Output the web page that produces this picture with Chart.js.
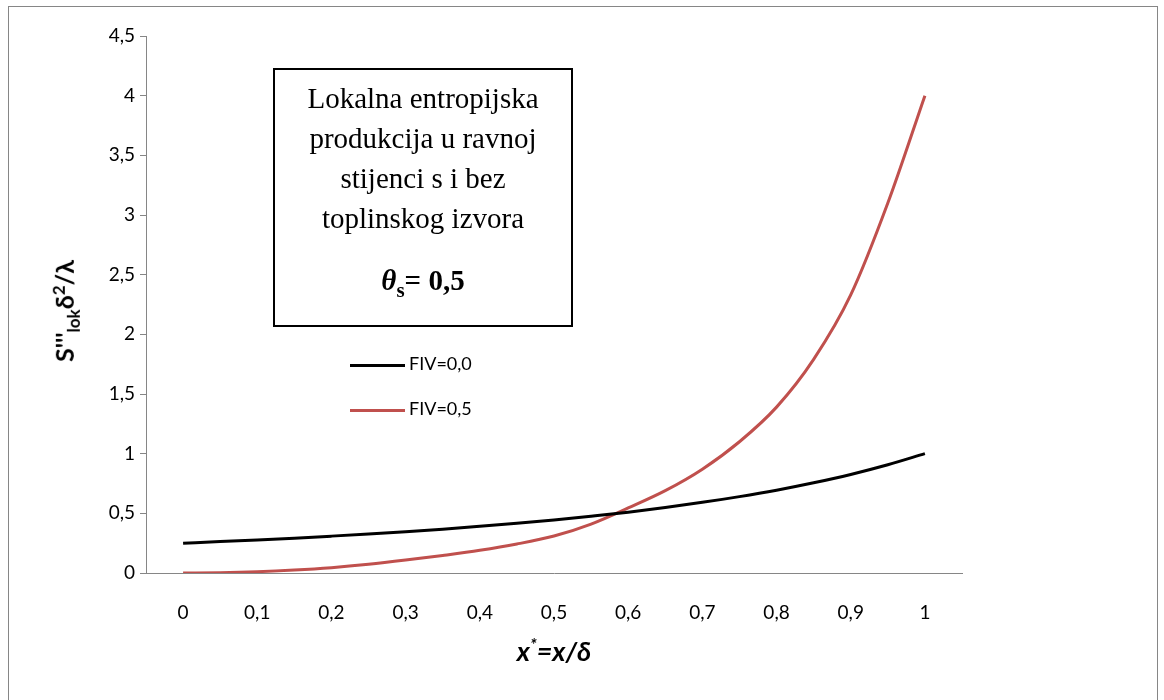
<!DOCTYPE html>
<html>
<head>
<meta charset="utf-8">
<script src="https://cdn.jsdelivr.net/npm/chart.js@4/dist/chart.umd.min.js"></script>
<style>
  body { margin: 0; background: #fff; }
  #wrap { position: relative; width: 1164px; height: 700px; overflow: hidden; }
  #frame { position: absolute; left: 8px; top: 6px; width: 1148px; height: 720px; border: 1px solid #868686; }
  #chart { position: absolute; left: 0; top: 0; }
  .note { position: absolute; left: 273px; top: 68px; width: 296px; height: 247px; padding-top: 8px; border: 2px solid #000;
    font-family: 'Liberation Serif', serif; font-size: 29px; text-align: center; line-height: 40px; }
  .note .theta { margin-top: 22px; font-weight: bold; font-size: 29px; }
  .note .theta sub { font-size: 21px; }
  .ytitle { position: absolute; left: 66px; top: 311px; transform: translate(-50%, -50%) rotate(-90deg);
    font-family: Lato, sans-serif; font-weight: bold; font-size: 25px; white-space: nowrap; }
  .ytitle sub, .ytitle sup { font-size: 17px; }
  .xtitle { position: absolute; left: 554px; top: 650px; transform: translate(-50%, -50%);
    font-family: Lato, sans-serif; font-weight: bold; font-style: italic; font-size: 27px; white-space: nowrap; }
  .xtitle sup { font-size: 17px; }
  .legend { position: absolute; left: 350px; font-family: Lato, sans-serif; font-size: 18px; }
  .legend span.ln { display: inline-block; width: 55px; height: 3px; vertical-align: middle; margin-right: 4px; }
</style>
</head>
<body>
<div id="wrap">
  <div id="frame"></div>
  <canvas id="chart" width="1164" height="700"></canvas>
  <div class="note">
    Lokalna entropijska<br>produkcija u ravnoj<br>stijenci s i bez<br>toplinskog izvora
    <div class="theta"><i>θ</i><sub>s</sub>= 0,5</div>
  </div>
  <div class="ytitle">S'''<sub>lok</sub>δ<sup>2</sup>/λ</div>
  <div class="xtitle">x<sup>*</sup>=x/δ</div>
  <div id="legend"></div>
</div>
<script>
  const xValues = [0, 0.05, 0.1, 0.15, 0.2, 0.25, 0.3, 0.35, 0.4, 0.45, 0.5, 0.55, 0.6, 0.65, 0.7, 0.75, 0.8, 0.85, 0.9, 0.95, 1];
  const fiv00 = [0.25, 0.263, 0.277, 0.292, 0.309, 0.327, 0.346, 0.367, 0.391, 0.416, 0.444, 0.476, 0.51, 0.549, 0.592, 0.64, 0.694, 0.756, 0.826, 0.907, 1.0];
  const fiv05 = [0, 0.003, 0.011, 0.025, 0.045, 0.073, 0.108, 0.147, 0.19, 0.243, 0.31, 0.41, 0.545, 0.69, 0.87, 1.1, 1.39, 1.79, 2.33, 3.1, 4.0];
  const seriesNames = ["FIV=0,0", "FIV=0,5"];
  const seriesColors = ["#000000", "#C0504D"];
  const xTickValues = [0, 0.1, 0.2, 0.3, 0.4, 0.5, 0.6, 0.7, 0.8, 0.9, 1];

  const comma = (v) => String(v).replace(".", ",");

  const chart = new Chart(document.getElementById("chart"), {
    type: "line",
    data: {
      datasets: [fiv00, fiv05].map((vals, i) => ({
        label: seriesNames[i],
        data: xValues.map((x, j) => ({ x: x, y: vals[j] })),
        borderColor: seriesColors[i],
        borderWidth: 3,
        pointRadius: 0,
        fill: false,
        cubicInterpolationMode: "monotone",
      })),
    },
    options: {
      responsive: false,
      animation: false,
      layout: { padding: { top: 36, right: 202, left: 0, bottom: 0 } },
      plugins: { legend: { display: false }, tooltip: { enabled: false } },
      scales: {
        x: {
          type: "linear",
          min: -0.05,
          max: 1.05,
          afterBuildTicks: (s) => { s.ticks = xTickValues.map((v) => ({ value: v })); },
          afterFit: (s) => { s.height = 127; },
          grid: { display: false },
          border: { color: "#868686", width: 1 },
          ticks: { padding: 20, color: "#000", autoSkip: false, maxRotation: 0,
            font: { family: "Lato", size: 19 }, callback: (v) => comma(v) },
        },
        y: {
          min: 0,
          max: 4.5,
          afterFit: (s) => { s.width = 146; },
          grid: { drawOnChartArea: false, tickLength: 6, color: "#868686" },
          border: { color: "#868686", width: 1 },
          ticks: { stepSize: 0.5, padding: 5, color: "#000",
            font: { family: "Lato", size: 19 }, callback: (v) => comma(v) },
        },
      },
    },
  });

  // legend drawn as html next to the lines
  const legendDiv = document.getElementById("legend");
  seriesNames.forEach((name, i) => {
    const row = document.createElement("div");
    row.className = "legend";
    row.style.top = (352 + i * 45) + "px";
    row.innerHTML = `<span class="ln" style="background:${seriesColors[i]}"></span>${name}`;
    legendDiv.appendChild(row);
  });
</script>
</body>
</html>
